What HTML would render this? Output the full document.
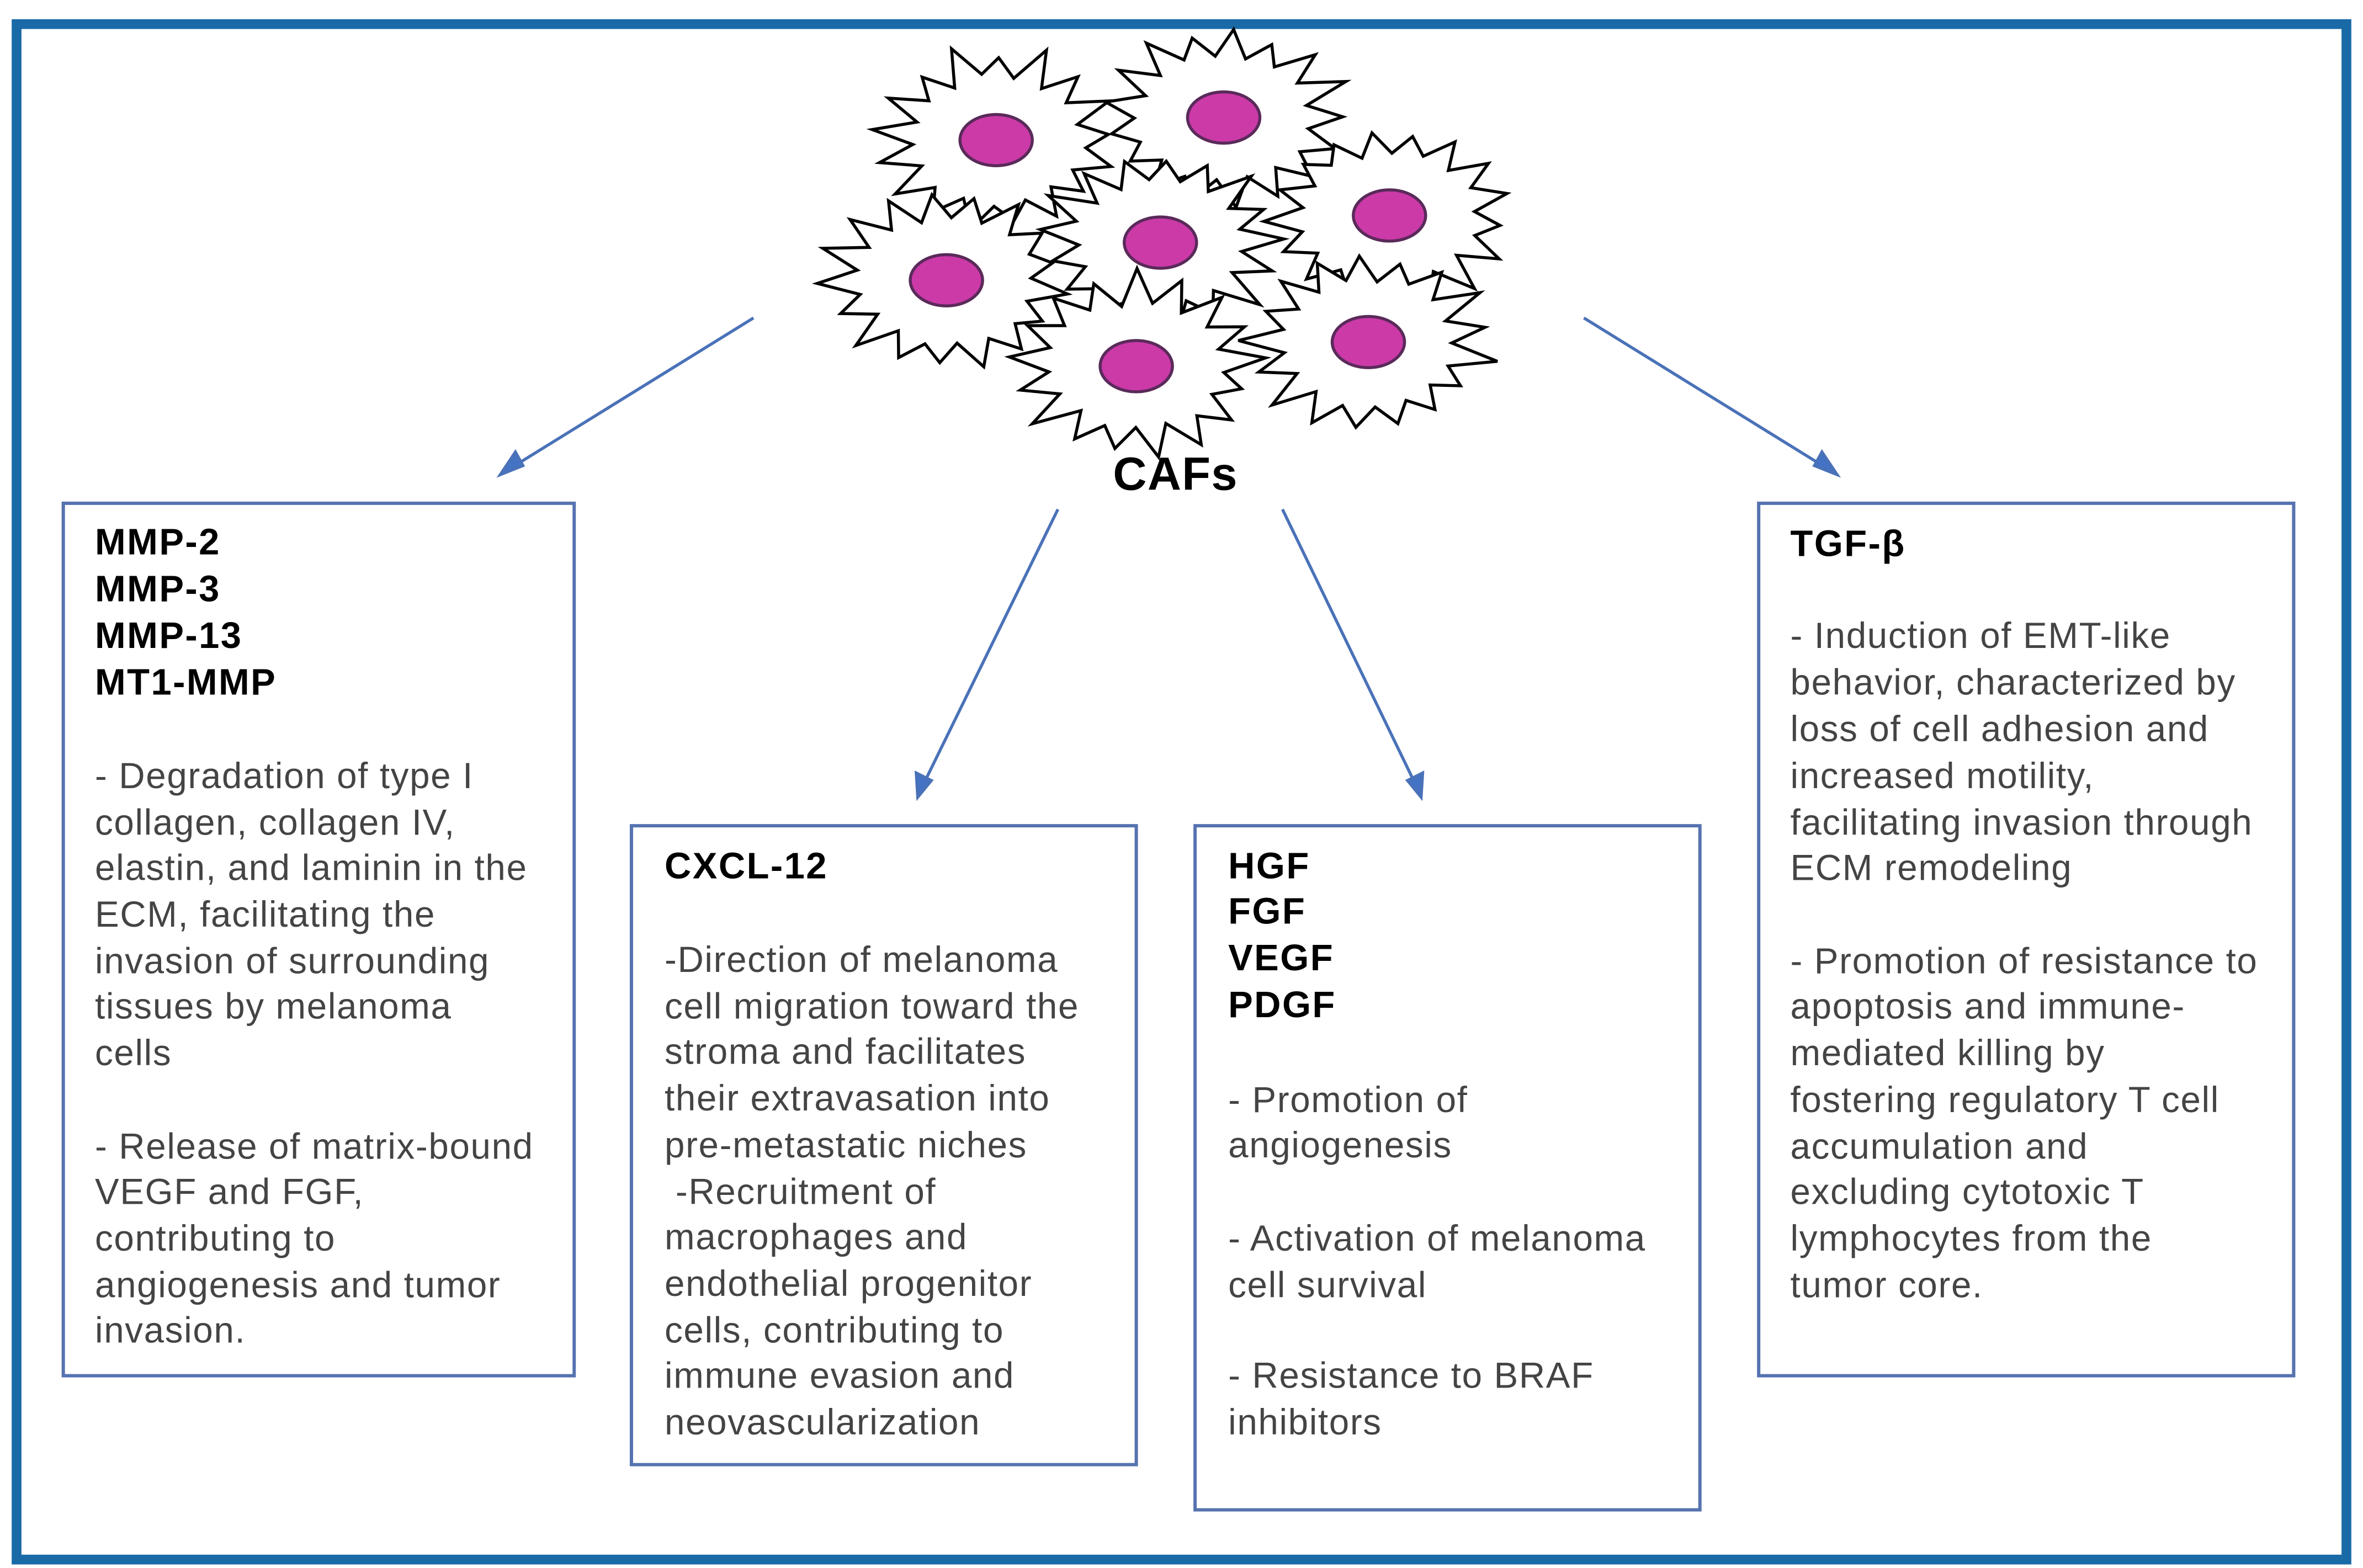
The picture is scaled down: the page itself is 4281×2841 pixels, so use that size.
<!DOCTYPE html>
<html><head><meta charset="utf-8">
<style>
html,body{margin:0;padding:0;background:#fff;}
svg{display:block;}
text{font-family:"Liberation Sans",Arial,sans-serif;}
.b{font-weight:bold;font-size:24.5px;letter-spacing:0.9px;fill:#000;}
.t{font-size:24px;letter-spacing:0.6px;fill:#444;}
</style></head><body>
<svg id="s" width="4281" height="2841" viewBox="0 0 1568 1040.6" preserveAspectRatio="none" xmlns="http://www.w3.org/2000/svg">
<rect x="0" y="0" width="1568" height="1041" fill="#fff"/>
<rect x="11" y="16" width="1546" height="1019" fill="none" stroke="#1a6aa8" stroke-width="6.5"/>
<g id="cells"></g>
<text x="780" y="325" text-anchor="middle" style="font-weight:bold;font-size:31px;letter-spacing:0.5px;fill:#000">CAFs</text>
<g stroke="#4a72b8" stroke-width="2" fill="#4472c4">
<line x1="500" y1="211" x2="340" y2="310"/>
<path d="M332,315 L342,300 L347,309 Z"/>
<line x1="702" y1="338" x2="613" y2="520"/>
<path d="M609,529 L608,513 L618,518 Z"/>
<line x1="851" y1="338" x2="939" y2="520"/>
<path d="M943,529 L934,518 L944,513 Z"/>
<line x1="1051" y1="211" x2="1211" y2="310"/>
<path d="M1219,315 L1204,309 L1209,300 Z"/>
</g>
<g fill="none" stroke="#5673b0" stroke-width="2.2">
<rect x="42" y="334" width="339" height="579"/>
<rect x="419" y="548" width="335" height="424"/>
<rect x="793" y="548" width="335" height="454"/>
<rect x="1167" y="334" width="355" height="579"/>
</g>
<g>
<text class="b" x="63" y="368">MMP-2</text>
<text class="b" x="63" y="399">MMP-3</text>
<text class="b" x="63" y="430">MMP-13</text>
<text class="b" x="63" y="461">MT1-MMP</text>
<text class="t" x="63" y="523">- Degradation of type I</text>
<text class="t" x="63" y="554">collagen, collagen IV,</text>
<text class="t" x="63" y="584">elastin, and laminin in the</text>
<text class="t" x="63" y="615">ECM, facilitating the</text>
<text class="t" x="63" y="646">invasion of surrounding</text>
<text class="t" x="63" y="676">tissues by melanoma</text>
<text class="t" x="63" y="707">cells</text>
<text class="t" x="63" y="769">- Release of matrix-bound</text>
<text class="t" x="63" y="799">VEGF and FGF,</text>
<text class="t" x="63" y="830">contributing to</text>
<text class="t" x="63" y="861">angiogenesis and tumor</text>
<text class="t" x="63" y="891">invasion.</text>

<text class="b" x="441" y="583">CXCL-12</text>
<text class="t" x="441" y="645">-Direction of melanoma</text>
<text class="t" x="441" y="676">cell migration toward the</text>
<text class="t" x="441" y="706">stroma and facilitates</text>
<text class="t" x="441" y="737">their extravasation into</text>
<text class="t" x="441" y="768">pre-metastatic niches</text>
<text class="t" x="441" y="799" xml:space="preserve"> -Recruitment of</text>
<text class="t" x="441" y="829">macrophages and</text>
<text class="t" x="441" y="860">endothelial progenitor</text>
<text class="t" x="441" y="891">cells, contributing to</text>
<text class="t" x="441" y="921">immune evasion and</text>
<text class="t" x="441" y="952">neovascularization</text>

<text class="b" x="815" y="583">HGF</text>
<text class="b" x="815" y="613">FGF</text>
<text class="b" x="815" y="644">VEGF</text>
<text class="b" x="815" y="675">PDGF</text>
<text class="t" x="815" y="738">- Promotion of</text>
<text class="t" x="815" y="768">angiogenesis</text>
<text class="t" x="815" y="830">- Activation of melanoma</text>
<text class="t" x="815" y="861">cell survival</text>
<text class="t" x="815" y="921">- Resistance to BRAF</text>
<text class="t" x="815" y="952">inhibitors</text>

<text class="b" x="1188" y="369">TGF-β</text>
<text class="t" x="1188" y="430">- Induction of EMT-like</text>
<text class="t" x="1188" y="461">behavior, characterized by</text>
<text class="t" x="1188" y="492">loss of cell adhesion and</text>
<text class="t" x="1188" y="523">increased motility,</text>
<text class="t" x="1188" y="554">facilitating invasion through</text>
<text class="t" x="1188" y="584">ECM remodeling</text>
<text class="t" x="1188" y="646">- Promotion of resistance to</text>
<text class="t" x="1188" y="676">apoptosis and immune-</text>
<text class="t" x="1188" y="707">mediated killing by</text>
<text class="t" x="1188" y="738">fostering regulatory T cell</text>
<text class="t" x="1188" y="769">accumulation and</text>
<text class="t" x="1188" y="799">excluding cytotoxic T</text>
<text class="t" x="1188" y="830">lymphocytes from the</text>
<text class="t" x="1188" y="861">tumor core.</text>
</g>
</svg>
<script>
(function(){
var g=document.getElementById('cells');
var ns='http://www.w3.org/2000/svg';
var cells=[[661,93,0.3],[812,78,1.1],[628,186,2.0],[770,161,0.7],[922,143,1.6],[754,243,2.5],[908,227,0.2]];
var seed=7;function rnd(){seed=(seed*9301+49297)%233280;return seed/233280;}
cells.forEach(function(c){
 var n=17,pts=[];
 for(var i=0;i<2*n;i++){
  var a=c[2]+i*Math.PI/n;
  var r=(i%2==0)?(72+rnd()*16):(54+rnd()*6);
  pts.push((c[0]+r*Math.cos(a)).toFixed(1)+','+(c[1]+r*0.74*Math.sin(a)).toFixed(1));
 }
 var p=document.createElementNS(ns,'polygon');
 p.setAttribute('points',pts.join(' '));
 p.setAttribute('fill','#fff');p.setAttribute('stroke','#000');p.setAttribute('stroke-width','2');
 g.appendChild(p);
 var e=document.createElementNS(ns,'ellipse');
 e.setAttribute('cx',c[0]);e.setAttribute('cy',c[1]);e.setAttribute('rx','24');e.setAttribute('ry','17');
 e.setAttribute('fill','#cc3aa8');e.setAttribute('stroke','#5a2a5a');e.setAttribute('stroke-width','2');
 g.appendChild(e);
});
})();
</script>
</body></html>
